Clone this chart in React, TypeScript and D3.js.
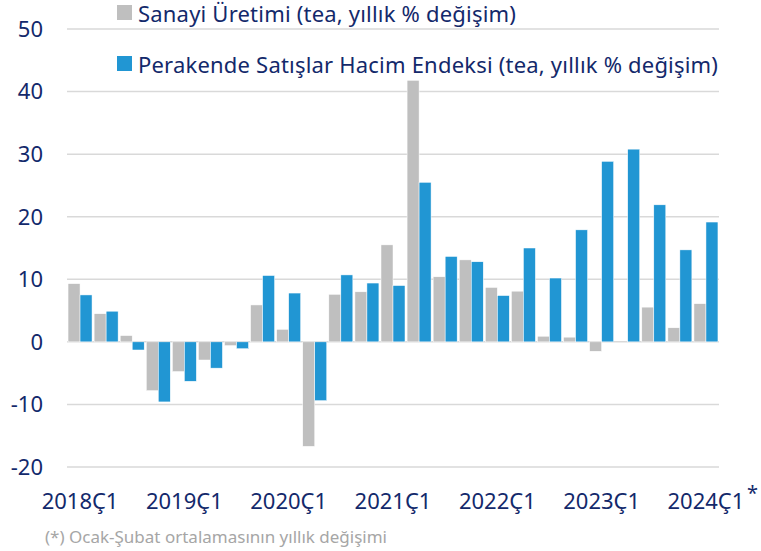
import React from 'react';
import * as d3 from 'd3';

const quarters: string[] = [
    '2018Ç1', '2018Ç2', '2018Ç3', '2018Ç4',
    '2019Ç1', '2019Ç2', '2019Ç3', '2019Ç4',
    '2020Ç1', '2020Ç2', '2020Ç3', '2020Ç4',
    '2021Ç1', '2021Ç2', '2021Ç3', '2021Ç4',
    '2022Ç1', '2022Ç2', '2022Ç3', '2022Ç4',
    '2023Ç1', '2023Ç2', '2023Ç3', '2023Ç4',
    '2024Ç1',
];

// Sanayi Üretimi (tea, yıllık % değişim)
const sanayi: number[] = [
    9.3, 4.5, 1.0, -7.8,
    -4.75, -2.9, -0.6, 5.9,
    2.0, -16.7, 7.6, 8.0,
    15.5, 41.8, 10.4, 13.1,
    8.7, 8.1, 0.9, 0.75,
    -1.5, 0, 5.55, 2.25,
    6.1,
];

// Perakende Satışlar Hacim Endeksi (tea, yıllık % değişim)
const perakende: number[] = [
    7.5, 4.9, -1.3, -9.6,
    -6.3, -4.2, -1.1, 10.6,
    7.8, -9.4, 10.7, 9.4,
    9.0, 25.5, 13.65, 12.8,
    7.4, 15.0, 10.2, 17.9,
    28.85, 30.8, 21.9, 14.7,
    19.15,
];

const yTicks: number[] = [-20, -10, 0, 10, 20, 30, 40, 50];
const xLabels: string[] = ['2018Ç1', '2019Ç1', '2020Ç1', '2021Ç1', '2022Ç1', '2023Ç1', '2024Ç1'];

const legendItems = [
    { label: 'Sanayi Üretimi (tea, yıllık % değişim)', color: '#BFBFBF' },
    { label: 'Perakende Satışlar Hacim Endeksi (tea, yıllık % değişim)', color: '#2196D3' },
];

const W = 761;
const H = 551;
const margin = { top: 29, right: 42, bottom: 84, left: 67 };
const textColor = '#13296B';
const font = '"Noto Sans", "Open Sans", sans-serif';

const App: React.FC = () => {
    const innerW = W - margin.left - margin.right;

    const x = d3.scaleBand<string>()
        .domain(quarters)
        .range([margin.left, margin.left + innerW])
        .paddingInner(0.08)
        .paddingOuter(0.04);

    const sub = d3.scaleBand<string>()
        .domain(['sanayi', 'perakende'])
        .range([0, x.bandwidth()]);

    const y = d3.scaleLinear()
        .domain([-20, 50])
        .range([467, 29]);

    const bar = (v: number) => ({ y: v >= 0 ? y(v) : y(0), h: Math.abs(y(v) - y(0)) });
    const lastCenter = (x('2024Ç1') ?? 0) + x.bandwidth() / 2;

    return (
        <svg width={W} height={H} style={{ position: 'absolute', left: 0, top: 0, fontFamily: font }}>
            <rect x={0} y={0} width={W} height={H} fill="#fff" />
            {yTicks.map(t => (
                <g key={t}>
                    <line x1={margin.left} x2={margin.left + innerW} y1={y(t)} y2={y(t)}
                        stroke="#D9D9D9" strokeWidth={1.5} />
                    <text x={43} y={y(t)} dy="0.36em" textAnchor="end" fontSize={22} fill={textColor}>{t}</text>
                </g>
            ))}

            {quarters.map((q, i) => {
                const g = bar(sanayi[i]);
                const b = bar(perakende[i]);
                return (
                    <g key={q} transform={`translate(${x(q)},0)`}>
                        {g.h > 0 && <rect x={sub('sanayi')} y={g.y} width={sub.bandwidth()} height={g.h}
                            fill="#BFBFBF" stroke="#fff" strokeWidth={0.5} />}
                        <rect x={sub('perakende')} y={b.y} width={sub.bandwidth()} height={b.h}
                            fill="#2196D3" stroke="#fff" strokeWidth={0.5} />
                    </g>
                );
            })}

            {xLabels.map(l => (
                <text key={l} x={(x(l) ?? 0) + x.bandwidth() / 2} y={509} textAnchor="middle"
                    fontSize={22} fill={textColor}>{l}</text>
            ))}
            <text x={lastCenter + 41} y={500} fontSize={20} fill={textColor}>*</text>

            {legendItems.map((item, i) => (
                <g key={item.label} transform={`translate(117,${5 + i * 51})`}>
                    <rect x={0} y={0} width={15} height={15} fill={item.color} />
                    <text x={21} y={16.5} fontSize={22} letterSpacing={0.2} fill={textColor}>{item.label}</text>
                </g>
            ))}

            <text x={45} y={543} fontSize={17} fill="#A6A6A6">(*) Ocak-Şubat ortalamasının yıllık değişimi</text>
        </svg>
    );
};

export default App;
